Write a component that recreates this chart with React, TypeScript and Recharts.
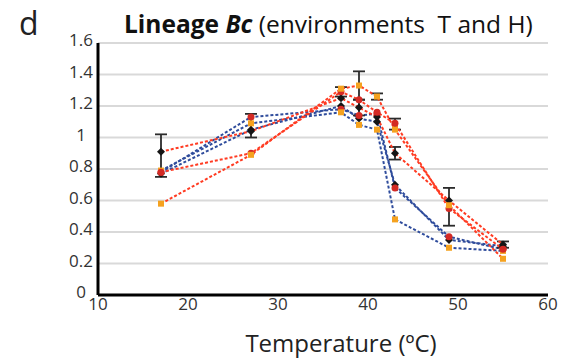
import React from "react";
import { LineChart, Line, XAxis, YAxis, CartesianGrid, ErrorBar } from "recharts";

const temps = [17, 27, 37, 39, 41, 43, 49, 55];
const tBlack = [0.77, 1.05, 1.2, 1.12, 1.1, 0.7, 0.35, 0.31];
const tRed = [0.78, 1.13, 1.18, 1.14, 1.15, 0.68, 0.37, 0.29];
const tOrange = [0.79, 1.09, 1.16, 1.08, 1.05, 0.48, 0.3, 0.28];
const hBlack = [0.91, 1.04, 1.25, 1.19, 1.13, 0.9, 0.6, 0.32];
const hRed = [0.78, 0.9, 1.29, 1.24, 1.16, 1.09, 0.55, 0.29];
const hOrange = [0.58, 0.89, 1.31, 1.33, 1.26, 1.05, 0.57, 0.23];

// error bars as [down, up], null where there is none
const tBlackErr = [null, [0.05, 0.1], null, null, null, null, null, null];
const hBlackErr = [[0.16, 0.11], null, null, [0.05, 0.05], null, [0.04, 0.04], [0.16, 0.08], [0.02, 0.02]];
const hRedErr = [null, null, [0.03, 0.03], null, null, [0.04, 0.03], null, null];
const hOrangeErr = [null, null, null, [0.09, 0.09], [0.02, 0.02], null, null, null];

const xTicks = [10, 20, 30, 40, 50, 60];
const yTicks = [0, 0.2, 0.4, 0.6, 0.8, 1, 1.2, 1.4, 1.6];

const data = temps.map((t, i) => ({
  t,
  tBlack: tBlack[i],
  tRed: tRed[i],
  tOrange: tOrange[i],
  hBlack: hBlack[i],
  hRed: hRed[i],
  hOrange: hOrange[i],
  tBlackErr: tBlackErr[i],
  hBlackErr: hBlackErr[i],
  hRedErr: hRedErr[i],
  hOrangeErr: hOrangeErr[i],
}));

const BLUE = "#2f4c9c";
const RED = "#ff3b22";
const FONT = "'Open Sans', sans-serif";

const diamond = (p) => (
  <path
    key={`dm-${p.index}`}
    d={`M${p.cx},${p.cy - 4} L${p.cx + 4},${p.cy} L${p.cx},${p.cy + 4} L${p.cx - 4},${p.cy} Z`}
    fill="#151515"
  />
);
const circle = (p) => <circle key={`ci-${p.index}`} cx={p.cx} cy={p.cy} r={3.5} fill="#d42a24" />;
const square = (p) => (
  <rect key={`sq-${p.index}`} x={p.cx - 3} y={p.cy - 3} width={6} height={6} fill="#f5a21f" />
);

// y labels sit centred in a column left of the axis, like the original
const YTick = ({ y, payload }) => (
  <text x={81} y={y} dy={3} textAnchor="middle" fontSize={17} fontFamily={FONT} fill="#333">
    {payload.value}
  </text>
);

const lineProps = {
  type: "linear" as const,
  strokeDasharray: "3 2",
  strokeWidth: 2,
  isAnimationActive: false,
  activeDot: false,
};

const errProps = { stroke: "#2b2b2b", strokeWidth: 1.8, width: 6, direction: "y" as const };

export default function App() {
  return (
    <div style={{ position: "absolute", left: 0, top: 0, width: 564, height: 360, background: "#fff" }}>
      <LineChart
        width={564}
        height={360}
        data={data}
        margin={{ top: 43, right: 16, bottom: 35, left: 0 }}
      >
        <CartesianGrid vertical={false} stroke="#d9d9d9" strokeWidth={2} />
        <XAxis
          dataKey="t"
          type="number"
          domain={[10, 60]}
          ticks={xTicks}
          height={30}
          tickLine={false}
          tickSize={0}
          tickMargin={3}
          axisLine={{ stroke: "#000", strokeWidth: 3 }}
          tick={{ fill: "#333", fontSize: 17, fontFamily: FONT }}
        />
        <YAxis
          type="number"
          domain={[0, 1.6]}
          ticks={yTicks}
          width={98}
          tickLine={false}
          tickSize={0}
          axisLine={{ stroke: "#000", strokeWidth: 3 }}
          tick={YTick}
        />
        <Line {...lineProps} dataKey="tBlack" stroke={BLUE} dot={diamond}>
          <ErrorBar {...errProps} dataKey="tBlackErr" />
        </Line>
        <Line {...lineProps} dataKey="tRed" stroke={BLUE} dot={circle} />
        <Line {...lineProps} dataKey="tOrange" stroke={BLUE} dot={square} />
        <Line {...lineProps} dataKey="hBlack" stroke={RED} dot={diamond}>
          <ErrorBar {...errProps} dataKey="hBlackErr" />
        </Line>
        <Line {...lineProps} dataKey="hRed" stroke={RED} dot={circle}>
          <ErrorBar {...errProps} dataKey="hRedErr" />
        </Line>
        <Line {...lineProps} dataKey="hOrange" stroke={RED} dot={square}>
          <ErrorBar {...errProps} dataKey="hOrangeErr" />
        </Line>
      </LineChart>
      <svg
        width={564}
        height={360}
        style={{ position: "absolute", left: 0, top: 0, pointerEvents: "none", fontFamily: FONT }}
      >
        <text x={19} y={35} fontSize={32} fill="#222">d</text>
        <text x={124} y={33} fontSize={24.5} fill="#111" style={{ whiteSpace: "pre" }}>
          <tspan fontWeight="bold">Lineage </tspan>
          <tspan fontWeight="bold" fontStyle="italic">Bc</tspan>
          <tspan> (environments  T and H)</tspan>
        </text>
        <text x={341} y={352} fontSize={24} fill="#222" textAnchor="middle">
          Temperature (ºC)
        </text>
      </svg>
    </div>
  );
}
